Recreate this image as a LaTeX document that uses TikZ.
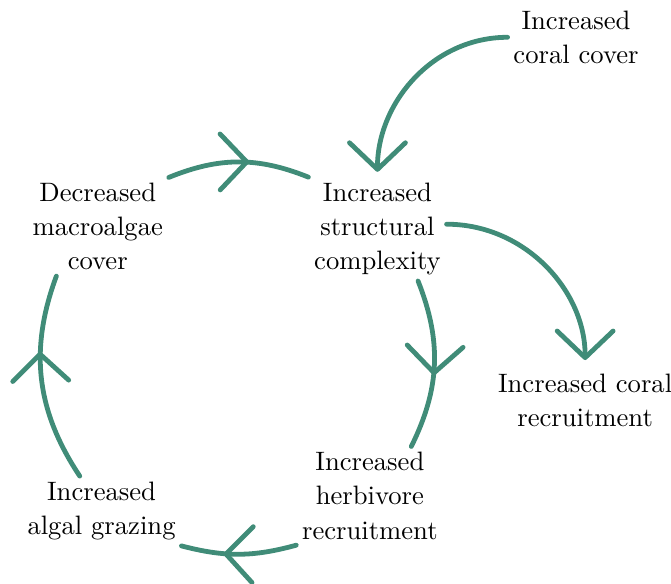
\documentclass[tikz,border=0pt]{standalone}
\usetikzlibrary{arrows.meta,decorations.markings}

\definecolor{reefgreen}{RGB}{64,140,120}

\tikzset{
    txt/.style={align=center, inner sep=2pt, font=\fontsize{10}{12.8}\selectfont},
    link/.style={reefgreen, line width=1.8pt, line cap=round},
    headend/.style={link, -{Straight Barb[length=10pt,width=21pt,round]}},
    headmid/.style={link, postaction={decorate},
        decoration={markings, mark=at position #1 with {\arrow[xshift=4pt]{Straight Barb[length=10pt,width=21pt,round]}}}},
    headmid/.default=0.5
}

\begin{document}
\begin{tikzpicture}
    \useasboundingbox (0,0) rectangle (8.853,7.692) ;

    \node[txt] (cover)   at (7.60, 7.20) {Increased\\coral cover} ;
    \node[txt] (complex) at (4.98, 4.67) {Increased\\structural\\complexity} ;
    \node[txt] (macro)   at (1.29, 4.70) {Decreased\\macroalgae\\cover} ;
    \node[txt] (recruit) at (7.72, 2.41) {Increased coral\\recruitment} ;
    \node[txt] (herb)    at (4.88, 1.15) {Increased\\herbivore\\recruitment} ;
    \node[txt] (graze)   at (1.34, 0.95) {Increased\\algal grazing} ;

    \draw[headend, shorten >=2pt] (cover.west) to[out=180, in=90] (complex.north) ;
    \draw[headend, shorten >=3pt] (complex.4) to[out=0, in=90] (recruit.north) ;

    \draw[headmid] (macro.north east) to[bend left=22] (complex.north west) ;
    \draw[headmid] (complex.-52) to[bend left=24] (herb.50) ;
    \draw[headmid=0.54] (herb.south west) to[bend left=15] (graze.south east) ;
    \draw[headmid=0.58] (graze.122) to[bend left=27] (macro.230) ;

\end{tikzpicture}
\end{document}
